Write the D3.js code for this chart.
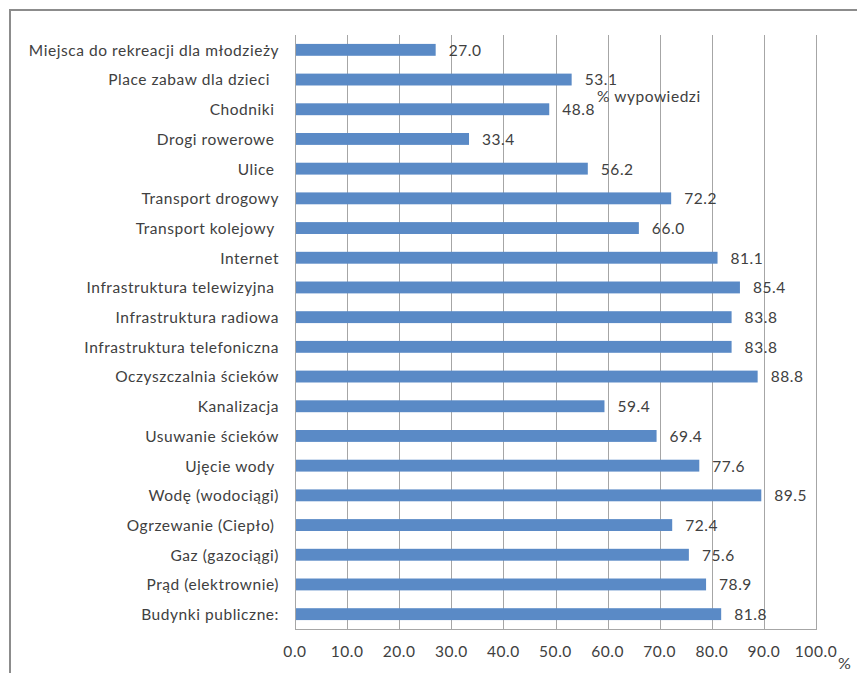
<!DOCTYPE html>
<html>
<head>
<meta charset="utf-8">
<script src="https://cdn.jsdelivr.net/npm/d3@7"></script>
<style>
  html, body { margin: 0; padding: 0; background: #ffffff; }
  svg { display: block; }
  text { font-family: Lato, "Open Sans", sans-serif; fill: #404040; white-space: pre; letter-spacing: 0.55px; }
</style>
</head>
<body>
<svg id="chart" width="857" height="673"></svg>
<script>
const categories = [
  "Miejsca do rekreacji dla młodzieży",
  "Place zabaw dla dzieci  ",
  "Chodniki ",
  "Drogi rowerowe ",
  "Ulice ",
  "Transport drogowy",
  "Transport kolejowy ",
  "Internet",
  "Infrastruktura telewizyjna ",
  "Infrastruktura radiowa",
  "Infrastruktura telefoniczna",
  "Oczyszczalnia ścieków",
  "Kanalizacja",
  "Usuwanie ścieków",
  "Ujęcie wody ",
  "Wodę (wodociągi)",
  "Ogrzewanie (Ciepło) ",
  "Gaz (gazociągi)",
  "Prąd (elektrownie)",
  "Budynki publiczne:"
];
const values = [27.0, 53.1, 48.8, 33.4, 56.2, 72.2, 66.0, 81.1, 85.4, 83.8, 83.8, 88.8, 59.4, 69.4, 77.6, 89.5, 72.4, 75.6, 78.9, 81.8];
const xTicks = [0, 10, 20, 30, 40, 50, 60, 70, 80, 90, 100];
const axisTitle = "% wypowiedzi";
const unitLabel = "%";

const svg = d3.select("#chart");
const plot = { left: 295, right: 816, top: 35, bottom: 629 };
const fs = "15.5px";

// outer frame (cropped)
svg.append("path")
  .attr("d", "M10,673 L10,10 L857,10")
  .attr("fill", "none")
  .attr("stroke", "#8c8c8c")
  .attr("stroke-width", 2);

const x = d3.scaleLinear().domain([0, 100]).range([plot.left, plot.right]);
const y = d3.scaleBand().domain(categories).range([plot.top, plot.bottom]).paddingInner(0.6).paddingOuter(0.3);

// gridlines
svg.append("g").selectAll("line").data(xTicks).join("line")
  .attr("x1", d => Math.round(x(d)) + 0.5)
  .attr("x2", d => Math.round(x(d)) + 0.5)
  .attr("y1", plot.top)
  .attr("y2", plot.bottom)
  .attr("stroke", "#a6a6a6")
  .attr("stroke-width", 1);

// bottom axis line
svg.append("line")
  .attr("x1", plot.left).attr("x2", plot.right + 1)
  .attr("y1", plot.bottom + 0.5).attr("y2", plot.bottom + 0.5)
  .attr("stroke", "#a6a6a6");

// bars
svg.append("g").selectAll("rect").data(values).join("rect")
  .attr("x", x(0) + 1)
  .attr("y", (d, i) => y(categories[i]))
  .attr("width", d => x(d) - x(0) - 1)
  .attr("height", y.bandwidth())
  .attr("fill", "#5a8ac6");

// value labels
svg.append("g").selectAll("text").data(values).join("text")
  .attr("x", d => x(d) + 13)
  .attr("y", (d, i) => y(categories[i]) + y.bandwidth() / 2)
  .attr("dy", "0.38em")
  .attr("font-size", fs)
  .text(d => d.toFixed(1));

// category labels
svg.append("g").selectAll("text").data(categories).join("text")
  .attr("x", 279)
  .attr("y", d => y(d) + y.bandwidth() / 2)
  .attr("dy", "0.38em")
  .attr("text-anchor", "end")
  .attr("font-size", fs)
  .text(d => d);

// x tick labels
svg.append("g").selectAll("text").data(xTicks).join("text")
  .attr("x", d => x(d))
  .attr("y", 657)
  .attr("text-anchor", "middle")
  .attr("font-size", fs)
  .text(d => d.toFixed(1));

// misplaced axis title
svg.append("text")
  .attr("x", 597)
  .attr("y", 102)
  .attr("font-size", fs)
  .text(axisTitle);

// unit label
svg.append("text")
  .attr("x", 838)
  .attr("y", 669)
  .attr("font-size", "16px")
  .text(unitLabel);
</script>
</body>
</html>
